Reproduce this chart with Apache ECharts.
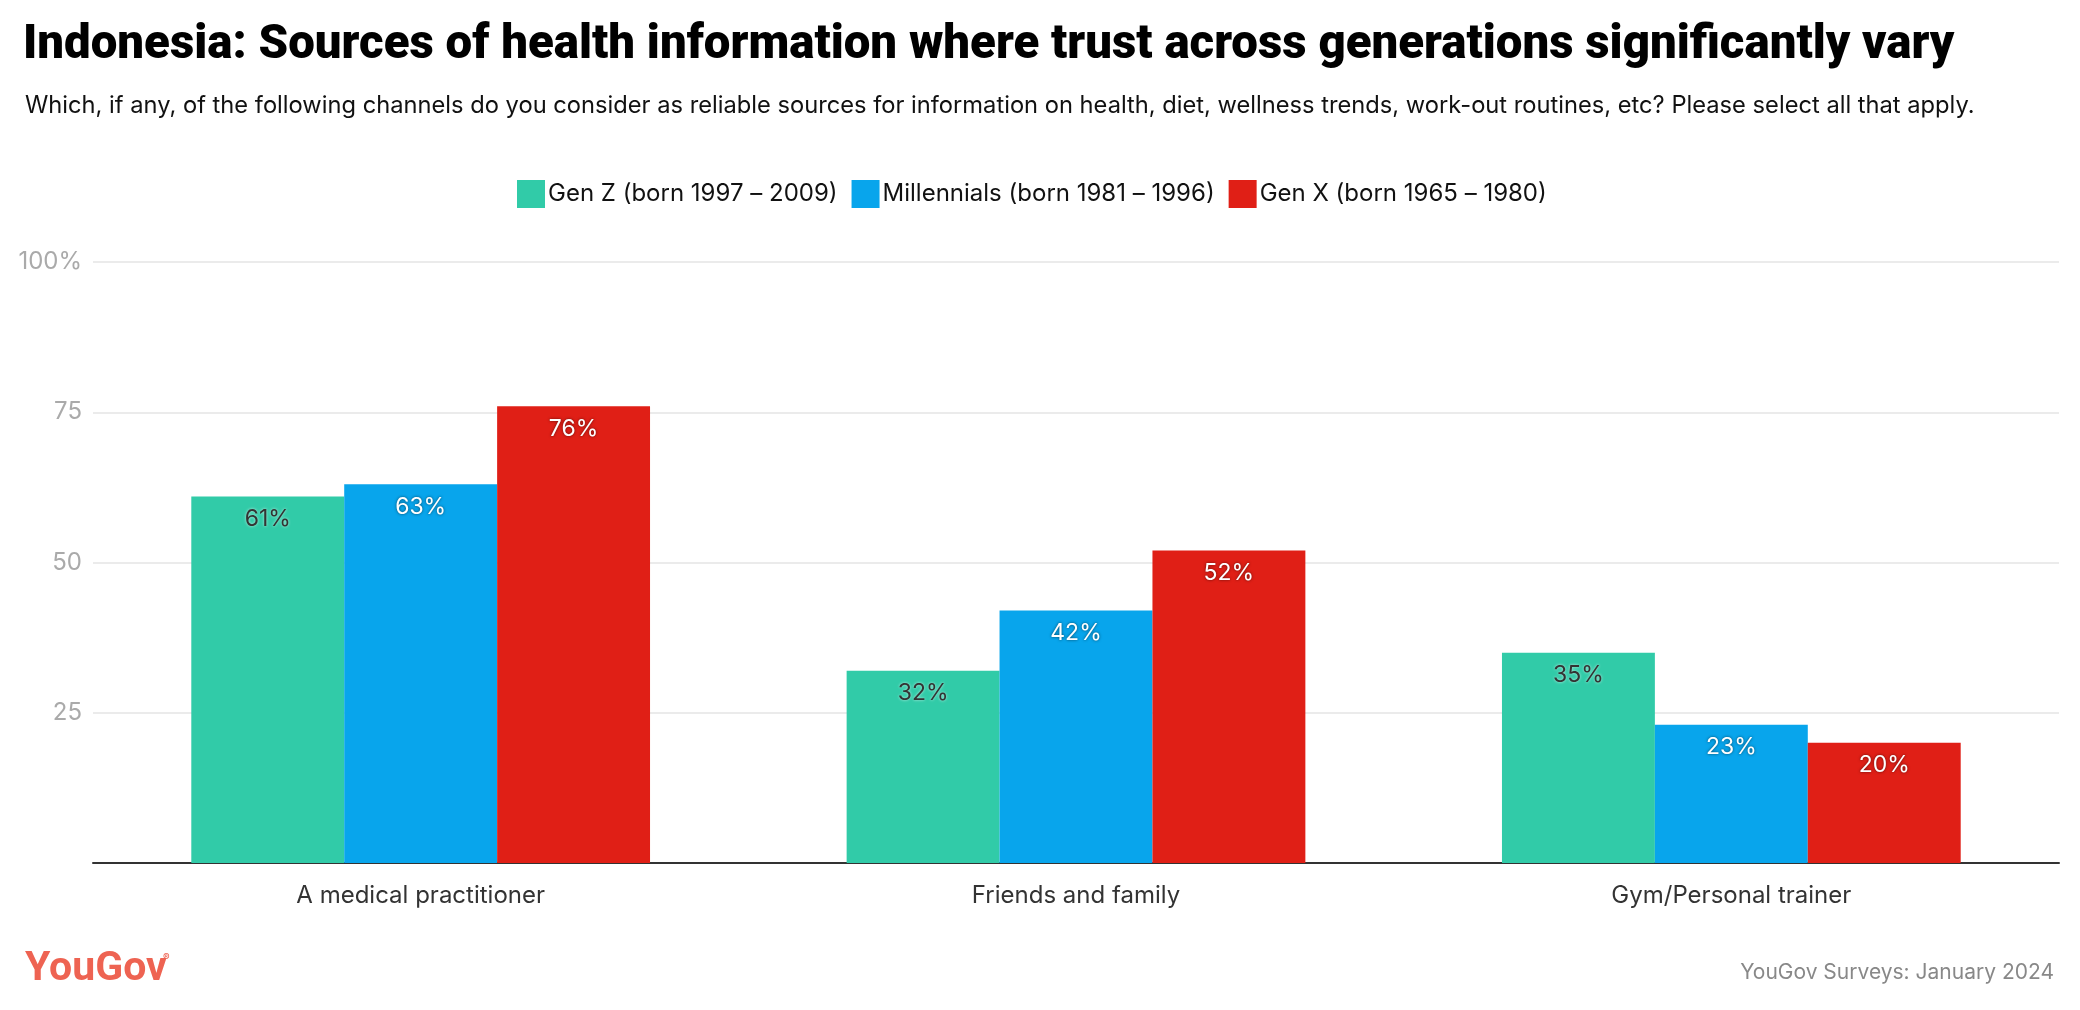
<!DOCTYPE html>
<html><head><meta charset="utf-8">
<style>html,body{margin:0;padding:0;background:#fff}#c{width:2080px;height:1010px}</style>
<script src="https://cdn.jsdelivr.net/npm/echarts@6/dist/echarts.min.js"></script>
</head><body><div id="c"></div>
<script>
const categories = ['A medical practitioner', 'Friends and family', 'Gym/Personal trainer'];
const seriesNames = ['Gen Z (born 1997 – 2009)', 'Millennials (born 1981 – 1996)', 'Gen X (born 1965 – 1980)'];
const genZ = [61, 32, 35];
const millennials = [63, 42, 23];
const genX = [76, 52, 20];
const colors = ['#31cba8', '#08a5ec', '#e01f16'];
const labelColors = ['#333333', '#ffffff', '#ffffff'];
const labelShadows = ['rgba(255,255,255,0.7)', 'rgba(0,0,0,0.6)', 'rgba(0,0,0,0.6)'];

const FONT = 'Inter';
const chart = echarts.init(document.getElementById('c'));
const data = [genZ, millennials, genX];
chart.setOption({
  animation: false,
  color: colors,
  title: [
    { text: 'Indonesia: Sources of health information where trust across generations significantly vary',
      left: 18, top: 18,
      textStyle: { fontFamily: 'Roboto', fontWeight: 900, fontSize: 47.4, color: '#000' } },
    { text: 'Which, if any, of the following channels do you consider as reliable sources for information on health, diet, wellness trends, work-out routines, etc? Please select all that apply.',
      left: 20, top: 89,
      textStyle: { fontFamily: FONT, fontWeight: 400, fontSize: 23.7, color: '#111' } },
    { text: 'YouGov', left: 20, top: 944,
      textStyle: { fontFamily: 'Roboto', fontWeight: 700, fontSize: 41, color: '#ee6352', letterSpacing: -1 } },
    { text: '®', left: 158, top: 948,
      textStyle: { fontFamily: FONT, fontSize: 10, color: '#ee6352' } },
    { text: 'YouGov Surveys: January 2024', right: 21, top: 957,
      textStyle: { fontFamily: FONT, fontWeight: 400, fontSize: 21, color: '#888' } }
  ],
  legend: {
    top: 175, left: 512, itemWidth: 28, itemHeight: 28, itemGap: 14,
    icon: 'rect',
    textStyle: { fontFamily: FONT, fontSize: 24, color: '#111', padding: [0, 0, 0, -2] },
    data: seriesNames
  },
  grid: { left: 93, right: 21, top: 262, bottom: 147, containLabel: false },
  xAxis: {
    type: 'category', data: categories,
    axisLine: { lineStyle: { color: '#333', width: 2 } },
    axisTick: { alignWithLabel: true, length: 8, lineStyle: { color: '#333', width: 2 } },
    axisLabel: { fontFamily: FONT, fontSize: 24, color: '#333', margin: 21 }
  },
  yAxis: {
    type: 'value', min: 0, max: 100, interval: 25,
    axisLine: { show: false }, axisTick: { show: false },
    splitLine: { lineStyle: { color: '#e4e4e4', width: 1.5 } },
    axisLabel: {
      fontFamily: FONT, fontSize: 24, color: '#aaaaaa', margin: 11,
      formatter: v => v === 0 ? '' : (v === 100 ? '100%' : String(v))
    }
  },
  series: data.map((d, i) => ({
    name: seriesNames[i], type: 'bar', data: d,
    barGap: '0%', barCategoryGap: '30%',
    label: {
      show: true, position: 'insideTop', distance: 11,
      formatter: '{c}%', fontFamily: FONT, fontSize: 23,
      color: labelColors[i], textShadowColor: labelShadows[i], textShadowBlur: 3
    }
  }))
});
</script></body></html>
